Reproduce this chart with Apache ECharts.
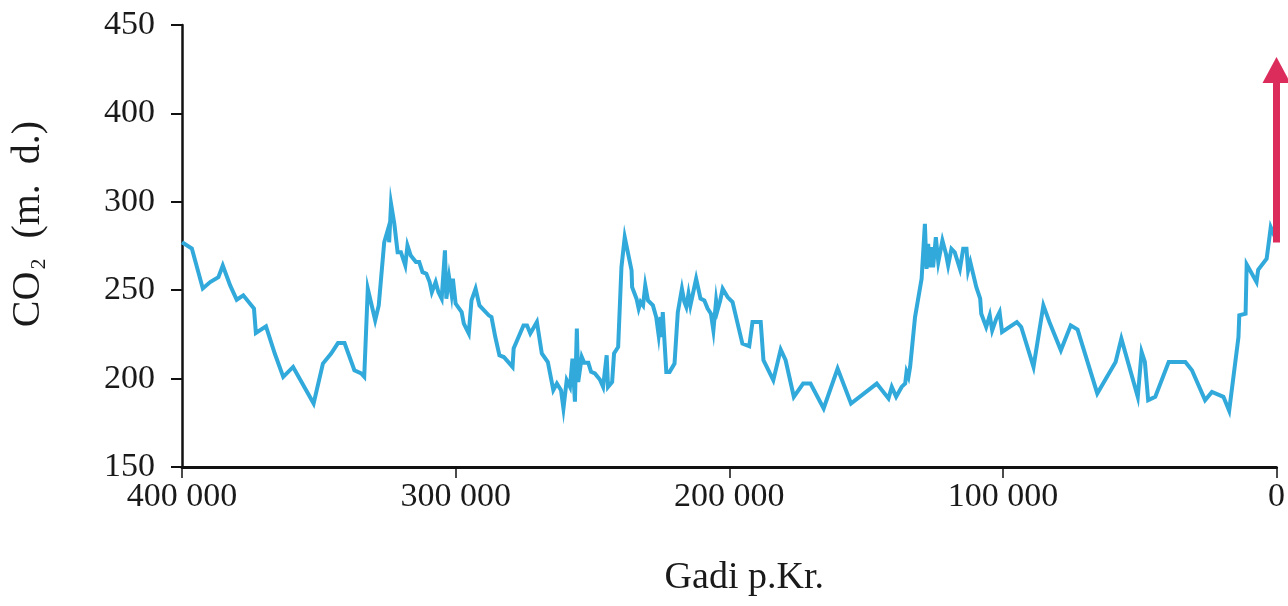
<!DOCTYPE html>
<html><head><meta charset="utf-8">
<script src="https://cdn.jsdelivr.net/npm/echarts@6/dist/echarts.min.js"></script>
<style>html,body{margin:0;padding:0;background:#fff}#c{width:1288px;height:606px}</style>
</head><body><div id="c"></div>
<script>
// Years before present (x) and CO2 values (y, in axis units)
const years = [400000,396400,392400,389700,386700,385100,382400,380000,377600,373700,
373000,369300,366100,363000,359400,351900,348500,345500,343000,340600,
337000,334500,333400,332100,329400,328100,326100,324500,324300,323600,
322400,321200,320000,318400,317600,316400,314500,313300,312100,310700,
309500,308700,307300,306300,305100,303900,303400,302400,301500,301000,
300000,297800,297000,295200,294200,292700,291300,287900,286900,285500,
284000,282400,279200,278800,275200,273900,272700,270300,268500,266300,
264300,263000,261500,260600,259400,258200,257300,256400,255700,255200,
253900,253000,251500,250500,249100,247300,246100,244800,244300,242800,
242100,240600,239400,238200,235700,235500,233900,233100,232400,231500,
230700,229700,227900,226700,225800,225100,224600,224300,223000,221800,
220000,218800,217300,216400,215700,214900,214200,212100,210500,209100,
207900,206700,205800,204800,204300,203300,202400,200600,198800,195200,
192700,191500,188500,187500,183900,181200,179400,176400,173000,170300,
165500,160400,155500,146100,141800,140600,139000,137000,135700,135200,
134500,133900,132100,129700,128500,127900,127300,126700,126100,125500,
124500,123600,122100,120800,120000,118800,117600,115700,114500,113300,
112700,111900,109700,108300,107900,106100,104800,103900,102400,101200,
100300,94900,93300,88800,85200,83000,78800,75200,72700,65500,
58800,56700,50700,49300,48100,46900,44300,39400,33300,30900,
26100,23600,19400,17300,13900,13600,11300,10900,7300,6700,
3600,2100,0];
const co2 = [277.1,273.6,251,254.6,257.4,264,252.7,244.6,247.1,239.6,
225.8,229.6,214.2,201,206.6,185.9,208.5,214.2,220.1,220.1,
204.7,202.9,201,250.8,233,241.4,277.1,285.6,277.1,298.8,
287.5,271.5,271.5,264,275.3,269.6,265.9,265.9,260.2,259.3,
254.6,248.9,254.6,248.9,245.2,272.5,245.2,257.4,248,256.5,
242.4,237.6,231.1,225.5,244.2,250.8,241.4,235.8,234.8,223.5,
213.2,212.2,206.6,217,230.1,230.1,225.5,232,214.2,209.4,
193.5,197.2,193.5,183.1,199.1,195.3,211.3,186.9,228.3,198.1,
212.2,208.9,208.9,203.8,202.9,199.5,195.3,213.2,195.3,198.1,
214.2,217.9,263,280,261.2,251.7,245.2,239.6,243.3,241.4,
252.7,244.2,241.4,234.8,224.5,234.8,223.5,237.6,203.8,203.8,
208.5,237.6,250.8,243.3,240.5,248,241.4,256.5,245.2,244.2,
239.6,236.7,227.3,244.2,238.6,244.2,250.8,246.1,243.3,219.8,
218.3,232,232,210.4,199.1,216.4,210.4,189.7,197.2,197.2,
183.1,205.7,185.9,197.2,188.8,195.3,189.7,195.3,197.2,203.8,
201,206.6,234.8,256.5,287.5,262.1,276.2,263,274.3,263,
280,265.9,278.1,270.6,264,273.4,271.5,262.1,273.4,273.4,
261.2,265.9,251.7,245.2,236.7,229.2,235.8,227.3,233.9,237.6,
226.4,232,229.2,206.6,241.4,232,216,230.1,227.7,191.6,
209.4,222.6,189.7,215.1,209.4,187.8,189.7,209.4,209.4,204.7,
187.8,192.5,189.7,181.8,223.5,235.8,236.7,264.6,254.6,261.6,
267.8,285.6,278.1];
// y tick positions and their printed labels (axis is broken: 350 position labelled 400)
const yTicks = [150, 200, 250, 300, 350, 400];
const yTickLabels = ['150', '200', '250', '300', '400', '450'];
const xTicks = [400000, 300000, 200000, 100000, 0];
const xTickLabels = ['400 000', '300 000', '200 000', '100 000', '0'];
// red arrow: modern rise (year 0, from / to in axis units)
const arrowYear = 0;
const arrowFrom = 277;
const arrowTo = 374.5;

const data = years.map((y, i) => [y, co2[i]]);
const FONT = 'Liberation Serif';
const chart = echarts.init(document.getElementById('c'), null, {renderer: 'canvas'});
chart.setOption({
  animation: false,
  backgroundColor: '#ffffff',
  grid: {left: 180, right: 6, top: 25, bottom: 139, containLabel: false},
  xAxis: {
    type: 'value', inverse: true, min: 0, max: 400000, interval: 100000,
    splitLine: {show: false},
    axisLine: {show: true, onZero: false, lineStyle: {color: '#111', width: 3}},
    axisTick: {show: true, inside: false, length: 11, lineStyle: {color: '#111', width: 1.5}},
    axisLabel: {
      margin: 13, color: '#1a1a1a', fontFamily: FONT, fontSize: 34,
      formatter: v => { const i = xTicks.indexOf(v); return i >= 0 ? xTickLabels[i] : ''; }
    },
    name: 'Gadi p.Kr.', nameLocation: 'middle', nameGap: 92,
    nameTextStyle: {color: '#1a1a1a', fontFamily: FONT, fontSize: 38, padding: [0, 0, 0, 30]}
  },
  yAxis: {
    type: 'value', min: 150, max: 400, interval: 50,
    splitLine: {show: false},
    axisLine: {show: true, onZero: false, lineStyle: {color: '#111', width: 2.5}},
    axisTick: {show: true, inside: false, length: 11, lineStyle: {color: '#111', width: 2}},
    axisLabel: {
      margin: 27, color: '#1a1a1a', fontFamily: FONT, fontSize: 34,
      formatter: v => { const i = yTicks.indexOf(v); return i >= 0 ? yTickLabels[i] : ''; }
    },
    name: '{a|CO}{s|2}{a|  (m.  d.)}', nameLocation: 'middle', nameGap: 132, nameRotate: 90,
    nameTextStyle: {
      color: '#1a1a1a', fontFamily: FONT, fontSize: 40, padding: [0, 0, 0, 44],
      rich: {
        a: {fontFamily: FONT, fontSize: 40, color: '#1a1a1a', lineHeight: 44},
        s: {fontFamily: FONT, fontSize: 22, color: '#1a1a1a', lineHeight: 44, verticalAlign: 'bottom', padding: [16, 0, 0, 2]}
      }
    }
  },
  series: [{
    type: 'line', data: data, showSymbol: false, symbol: 'none', clip: false,
    lineStyle: {color: '#31aadb', width: 4, join: 'miter'},
    markLine: {
      silent: true, animation: false,
      symbol: ['none', 'triangle'], symbolSize: [28, 26],
      label: {show: false},
      lineStyle: {color: '#db2c5b', width: 7, type: 'solid'},
      data: [[{coord: [arrowYear, arrowFrom]}, {coord: [arrowYear, arrowTo]}]]
    }
  }]
});
</script></body></html>
